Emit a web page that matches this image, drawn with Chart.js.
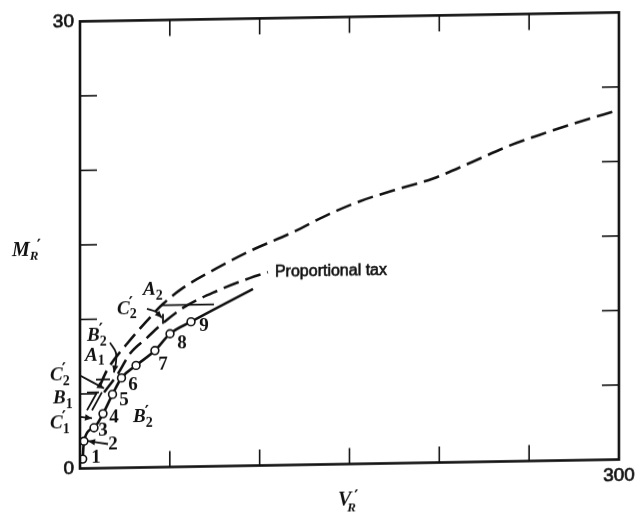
<!DOCTYPE html>
<html>
<head>
<meta charset="utf-8">
<script src="https://cdn.jsdelivr.net/npm/chart.js@4.4.1/dist/chart.umd.min.js"></script>
<style>
  html, body { margin: 0; padding: 0; background: #fff; }
  #wrap { width: 641px; height: 517px; transform: skewY(-0.955deg); transform-origin: 50% 50%; }
  canvas { display: block; }
</style>
</head>
<body>
<div id="wrap"><canvas id="chart" width="641" height="517"></canvas></div>
<script>
// Axis ticks (V_R' horizontal, M_R' vertical)
const xTicks = [0, 50, 100, 150, 200, 250, 300];
const yTicks = [0, 5, 10, 15, 20, 25, 30];
const xLabelled = [300];
const yLabelled = [0, 30];

// Upper dashed path A1 -> A2 and beyond
const vUpper = [11.1, 15.0, 26.2, 37.3, 46.2, 57.3, 76.2, 94.6, 118.6, 137.4, 155.8, 174.2, 196.5, 218.7, 237.7, 256.0, 274.4, 300];
const mUpper = [5.55, 6.55, 8.32, 9.84, 10.95, 12.0, 13.29, 14.40, 15.62, 16.72, 17.62, 18.30, 19.06, 20.15, 21.12, 21.88, 22.58, 23.46];

// Proportional tax path
const vProp = [13.4, 21.2, 27.8, 37.3, 44.5, 57.3, 76.2, 94.6, 104.6];
const mProp = [5.08, 6.33, 7.65, 8.70, 9.49, 10.66, 11.76, 12.59, 12.97];

// Observed positions 1..9 (with one unnumbered point between 6 and 7)
const vObs = [1.5, 2.2, 7.8, 12.8, 18.1, 23.1, 31.2, 41.7, 50.1, 61.8];
const mObs = [0.63, 1.83, 2.72, 3.65, 4.94, 6.03, 6.85, 7.83, 8.94, 9.72];

// Solid path through the observed positions
const vSolid = [1.5, 2.2, 7.8, 12.8, 18.1, 23.1, 31.2, 41.7, 50.1, 61.8, 96.3];
const mSolid = [0.63, 1.83, 2.72, 3.65, 4.94, 6.03, 6.85, 7.83, 8.94, 9.72, 11.85];

// Numbers beside the points: positions of each number
const numText = ['1', '2', '3', '4', '5', '6', '7', '8', '9'];
const numV = [8.9, 18.4, 12.8, 18.9, 24.5, 29.5, 46.2, 56.8, 69.0];
const numM = [0.68, 1.60, 2.54, 3.40, 4.52, 5.51, 6.88, 8.26, 9.44];

// Letter tags: main letter, prime flag, subscript, left edge (V) and centre (M)
const tagMain  = ['A', 'C', 'B', 'A', 'C', 'B', 'C', 'B'];
const tagPrime = [false, true, true, false, true, false, true, true];
const tagSub   = ['2', '2', '2', '1', '2', '1', '1', '2'];
const tagV     = [35.1, 20.6, 3.9, 2.8, -16.7, -15.0, -16.7, 29.5];
const tagM     = [11.90, 10.65, 8.89, 7.56, 6.26, 4.72, 3.06, 3.36];

// Short connecting bars and pointers
const barA2V = [45.6, 74.6],  barA2M = [10.86, 10.86];
const barA1V = [8.9, 16.7],   barA1M = [5.95, 5.95];
const barB1V = [3.9, 10.6],   barB1M = [5.09, 5.09];
const strokeB1aV = [3.9, 9.5],  strokeB1aM = [3.90, 5.09];
const strokeB1bV = [6.7, 12.2], strokeB1bM = [3.89, 5.09];
const tickC2V = [46.2, 46.2], tickC2M = [10.28, 9.62];
const arrowC1V = [0, 6.7],    arrowC1M = [3.47, 3.36];
const arrowC2lowV = [0, 13.4], arrowC2lowM = [6.24, 5.35];
const arrowTwoV = [15.6, 4.5], arrowTwoM = [1.61, 1.83];
const arrowB2V = [16.7, 20.0, 20.0, 18.9], arrowB2M = [8.41, 7.74, 7.07, 6.40];
const arrowC2V = [37.3, 42.3, 45.6], arrowC2M = [10.64, 10.43, 10.02];

const ink = '#111';
const pts = (vs, ms) => vs.map((v, i) => ({ x: v, y: ms[i] }));

const helper = (vs, ms, arrow) => ({
  data: pts(vs, ms), showLine: true, borderColor: ink, borderWidth: 1.8,
  pointRadius: 0, tension: 0.35, clip: false, order: 2, arrow: !!arrow
});

const datasets = [
  { label: 'observed', data: pts(vObs, mObs), showLine: false, pointRadius: 3.9,
    pointBorderWidth: 1.6, pointBackgroundColor: '#fff', pointBorderColor: ink, order: 0 },
  { label: 'solid', data: pts(vSolid, mSolid), showLine: true, borderColor: ink, borderWidth: 2.6,
    pointRadius: 0, cubicInterpolationMode: 'monotone', order: 1 },
  { label: 'proportional', data: pts(vProp, mProp), showLine: true, borderColor: ink, borderWidth: 2.6,
    borderDash: [16, 7], pointRadius: 0, cubicInterpolationMode: 'monotone', order: 1 },
  { label: 'upper', data: pts(vUpper, mUpper), showLine: true, borderColor: ink, borderWidth: 2.6,
    borderDash: [16, 7], pointRadius: 0, cubicInterpolationMode: 'monotone', order: 1 },
  helper(barA2V, barA2M), helper(barA1V, barA1M), helper(barB1V, barB1M),
  helper(strokeB1aV, strokeB1aM), helper(strokeB1bV, strokeB1bM), helper(tickC2V, tickC2M),
  helper(arrowC1V, arrowC1M, true), helper(arrowC2lowV, arrowC2lowM, true),
  helper(arrowTwoV, arrowTwoM, true), helper(arrowB2V, arrowB2M, true), helper(arrowC2V, arrowC2M, true)
];

function seg(ctx, x1, y1, x2, y2) {
  ctx.beginPath(); ctx.moveTo(x1, y1); ctx.lineTo(x2, y2); ctx.stroke();
}

// heavier text: fill plus a thin outline
function heavyText(ctx, t, px, py) {
  ctx.fillText(t, px, py);
  ctx.strokeText(t, px, py);
}

function drawTag(ctx, px, py, main, prime, sub) {
  ctx.textAlign = 'left';
  ctx.textBaseline = 'middle';
  ctx.font = 'italic bold 19px "Liberation Serif", serif';
  ctx.fillText(main, px, py);
  const w = ctx.measureText(main).width;
  if (prime) {
    ctx.font = 'bold 16px "DejaVu Serif", serif';
    ctx.fillText('\u2032', px + w - 1, py - 5);
  }
  ctx.font = 'bold 14px "Liberation Serif", serif';
  ctx.fillText(sub, px + w, py + 6);
}

const framePlugin = {
  id: 'frame',
  afterDatasetsDraw(chart) {
    const { ctx, chartArea: a, scales: { x, y } } = chart;
    ctx.save();
    ctx.strokeStyle = ink;
    ctx.fillStyle = ink;
    ctx.lineCap = 'butt';

    // frame
    ctx.lineWidth = 2.6;
    ctx.strokeRect(a.left, a.top, a.right - a.left, a.bottom - a.top);

    // inward ticks on all four sides
    ctx.lineWidth = 1.6;
    xTicks.slice(1, -1).forEach(t => {
      const px = x.getPixelForValue(t);
      seg(ctx, px, a.top, px, a.top + 16);
      seg(ctx, px, a.bottom, px, a.bottom - 16);
    });
    yTicks.slice(1, -1).forEach(t => {
      const py = y.getPixelForValue(t);
      seg(ctx, a.left, py, a.left + 17, py);
      seg(ctx, a.right, py, a.right - 17, py);
    });

    // arrowheads on pointer lines
    chart.data.datasets.forEach((ds, i) => {
      if (!ds.arrow) return;
      const meta = chart.getDatasetMeta(i);
      const n = meta.data.length;
      const p1 = meta.data[n - 2], p2 = meta.data[n - 1];
      const ang = Math.atan2(p2.y - p1.y, p2.x - p1.x);
      const L = 7, W = 3.2;
      ctx.beginPath();
      ctx.moveTo(p2.x, p2.y);
      ctx.lineTo(p2.x - L * Math.cos(ang) + W * Math.sin(ang), p2.y - L * Math.sin(ang) - W * Math.cos(ang));
      ctx.lineTo(p2.x - L * Math.cos(ang) - W * Math.sin(ang), p2.y - L * Math.sin(ang) + W * Math.cos(ang));
      ctx.closePath();
      ctx.fill();
    });

    // numbers beside the points
    ctx.font = 'bold 19px "Liberation Serif", serif';
    ctx.textAlign = 'center';
    ctx.textBaseline = 'middle';
    numText.forEach((t, i) => {
      ctx.fillText(t, x.getPixelForValue(numV[i]), y.getPixelForValue(numM[i]));
    });

    // letter tags
    tagMain.forEach((m, i) => {
      drawTag(ctx, x.getPixelForValue(tagV[i]), y.getPixelForValue(tagM[i]), m, tagPrime[i], tagSub[i]);
    });

    // curve caption
    ctx.lineWidth = 0.6;
    ctx.font = '16px "Liberation Sans", Arial, sans-serif';
    ctx.textAlign = 'left';
    ctx.textBaseline = 'middle';
    heavyText(ctx, 'Proportional tax', x.getPixelForValue(108.5), y.getPixelForValue(12.97));

    // axis titles
    const midY = (a.top + a.bottom) / 2;
    ctx.font = 'italic bold 20px "Liberation Serif", serif';
    ctx.fillText('M', a.left - 68, midY + 5);
    let w = ctx.measureText('M').width;
    ctx.font = 'italic bold 13px "Liberation Serif", serif';
    ctx.fillText('R', a.left - 68 + w, midY + 11);
    ctx.font = 'bold 16px "DejaVu Serif", serif';
    ctx.fillText('\u2032', a.left - 68 + w + 7, midY + 1);

    const tx = a.left + 258, ty = a.bottom + 36;
    ctx.font = 'italic bold 20px "Liberation Serif", serif';
    ctx.fillText('V', tx, ty);
    w = ctx.measureText('V').width;
    ctx.font = 'italic bold 13px "Liberation Serif", serif';
    ctx.fillText('R', tx + w - 4, ty + 8);
    ctx.font = 'bold 16px "DejaVu Serif", serif';
    ctx.fillText('\u2032', tx + w + 3, ty - 3);

    ctx.restore();
  }
};

new Chart(document.getElementById('chart'), {
  type: 'scatter',
  data: { datasets },
  options: {
    responsive: false,
    animation: false,
    devicePixelRatio: 1,
    layout: { padding: { top: 15, right: 22, bottom: 0, left: 0 } },
    plugins: { legend: { display: false }, tooltip: { enabled: false } },
    scales: {
      x: {
        type: 'linear', min: 0, max: 300,
        afterBuildTicks: s => { s.ticks = xTicks.map(v => ({ value: v })); },
        afterFit: s => { s.height = 52.5; },
        grid: { display: false, drawTicks: false },
        border: { display: false },
        ticks: {
          padding: 5, color: ink, maxRotation: 0, autoSkip: false,
          font: { family: '"Liberation Sans", Arial, sans-serif', size: 19 },
          textStrokeColor: ink, textStrokeWidth: 0.7,
          callback: v => xLabelled.includes(v) ? String(v) : ''
        }
      },
      y: {
        type: 'linear', min: 0, max: 30,
        afterBuildTicks: s => { s.ticks = yTicks.map(v => ({ value: v })); },
        afterFit: s => { s.width = 80; },
        grid: { display: false, drawTicks: false },
        border: { display: false },
        ticks: {
          padding: 6, color: ink, autoSkip: false,
          font: { family: '"Liberation Sans", Arial, sans-serif', size: 19 },
          textStrokeColor: ink, textStrokeWidth: 0.7,
          callback: v => yLabelled.includes(v) ? String(v) : ''
        }
      }
    }
  },
  plugins: [framePlugin]
});
</script>
</body>
</html>
